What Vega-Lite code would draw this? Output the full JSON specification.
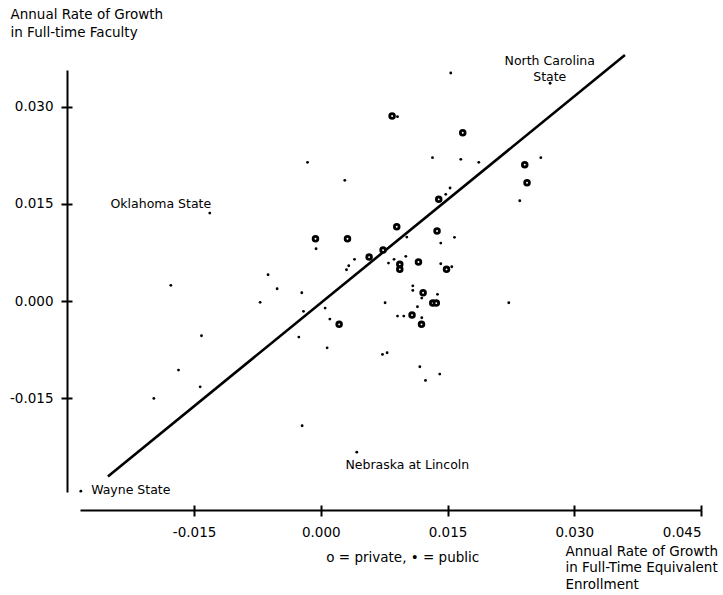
{
  "$schema": "https://vega.github.io/schema/vega-lite/v6.json",
  "width": 621,
  "height": 422,
  "autosize": {"type": "none"},
  "padding": {"left": 80, "top": 70, "right": 22, "bottom": 103},
  "background": "white",
  "config": {
    "view": {"stroke": null},
    "font": "DejaVu Sans",
    "axis": {
      "grid": false,
      "domainColor": "black",
      "domainWidth": 2,
      "tickColor": "black",
      "tickWidth": 2,
      "labelColor": "black",
      "titleColor": "black",
      "labelFont": "DejaVu Sans",
      "titleFont": "DejaVu Sans",
      "labelFontSize": 13.5,
      "titleFontSize": 13.5,
      "titleFontWeight": "normal"
    }
  },
  "datasets": {
    "points": [
      {"x": 0.00844, "y": 0.02859, "type": "private"},
      {"x": 0.01680, "y": 0.02601, "type": "private"},
      {"x": 0.01396, "y": 0.01572, "type": "private"},
      {"x": 0.00899, "y": 0.01148, "type": "private"},
      {"x": 0.01376, "y": 0.01082, "type": "private"},
      {"x": -0.00063, "y": 0.00963, "type": "private"},
      {"x": 0.00316, "y": 0.00963, "type": "private"},
      {"x": 0.00737, "y": 0.00788, "type": "private"},
      {"x": 0.00572, "y": 0.00680, "type": "private"},
      {"x": 0.00935, "y": 0.00567, "type": "private"},
      {"x": 0.00935, "y": 0.00490, "type": "private"},
      {"x": 0.01156, "y": 0.00603, "type": "private"},
      {"x": 0.01488, "y": 0.00490, "type": "private"},
      {"x": 0.01211, "y": 0.00128, "type": "private"},
      {"x": 0.01325, "y": -0.00031, "type": "private"},
      {"x": 0.01367, "y": -0.00031, "type": "private"},
      {"x": 0.01080, "y": -0.00216, "type": "private"},
      {"x": 0.01192, "y": -0.00360, "type": "private"},
      {"x": 0.00217, "y": -0.00360, "type": "private"},
      {"x": 0.02414, "y": 0.02107, "type": "private"},
      {"x": 0.02441, "y": 0.01828, "type": "private"},
      {"x": 0.00908, "y": 0.02849, "type": "public"},
      {"x": -0.00157, "y": 0.02144, "type": "public"},
      {"x": 0.01322, "y": 0.02215, "type": "public"},
      {"x": 0.01657, "y": 0.02190, "type": "public"},
      {"x": 0.01870, "y": 0.02144, "type": "public"},
      {"x": 0.00284, "y": 0.01866, "type": "public"},
      {"x": 0.01530, "y": 0.01747, "type": "public"},
      {"x": 0.01479, "y": 0.01649, "type": "public"},
      {"x": 0.01582, "y": 0.00985, "type": "public"},
      {"x": 0.01018, "y": 0.00989, "type": "public"},
      {"x": 0.01420, "y": 0.00896, "type": "public"},
      {"x": -0.00056, "y": 0.00808, "type": "public"},
      {"x": 0.00399, "y": 0.00645, "type": "public"},
      {"x": 0.00331, "y": 0.00546, "type": "public"},
      {"x": 0.00304, "y": 0.00484, "type": "public"},
      {"x": 0.00867, "y": 0.00645, "type": "public"},
      {"x": 0.01006, "y": 0.00691, "type": "public"},
      {"x": 0.00801, "y": 0.00587, "type": "public"},
      {"x": 0.01420, "y": 0.00577, "type": "public"},
      {"x": 0.01550, "y": 0.00530, "type": "public"},
      {"x": 0.01089, "y": 0.00236, "type": "public"},
      {"x": 0.01089, "y": 0.00165, "type": "public"},
      {"x": 0.01381, "y": 0.00104, "type": "public"},
      {"x": 0.01195, "y": 0.00046, "type": "public"},
      {"x": 0.00761, "y": -0.00026, "type": "public"},
      {"x": 0.02225, "y": -0.00026, "type": "public"},
      {"x": 0.01144, "y": -0.00088, "type": "public"},
      {"x": 0.00908, "y": -0.00232, "type": "public"},
      {"x": 0.00982, "y": -0.00232, "type": "public"},
      {"x": 0.01195, "y": -0.00258, "type": "public"},
      {"x": 0.00730, "y": -0.00824, "type": "public"},
      {"x": 0.00785, "y": -0.00799, "type": "public"},
      {"x": 0.01172, "y": -0.01015, "type": "public"},
      {"x": 0.01408, "y": -0.01128, "type": "public"},
      {"x": 0.01239, "y": -0.01226, "type": "public"},
      {"x": -0.00624, "y": 0.00406, "type": "public"},
      {"x": -0.01775, "y": 0.00243, "type": "public"},
      {"x": -0.00517, "y": 0.00190, "type": "public"},
      {"x": -0.00225, "y": 0.00128, "type": "public"},
      {"x": -0.00718, "y": -0.00020, "type": "public"},
      {"x": -0.00205, "y": -0.00159, "type": "public"},
      {"x": 0.00051, "y": -0.00108, "type": "public"},
      {"x": 0.00107, "y": -0.00278, "type": "public"},
      {"x": -0.00260, "y": -0.00556, "type": "public"},
      {"x": 0.00075, "y": -0.00722, "type": "public"},
      {"x": -0.01412, "y": -0.00536, "type": "public"},
      {"x": -0.01684, "y": -0.01066, "type": "public"},
      {"x": -0.01428, "y": -0.01325, "type": "public"},
      {"x": -0.01976, "y": -0.01504, "type": "public"},
      {"x": -0.00221, "y": -0.01927, "type": "public"},
      {"x": 0.02714, "y": 0.03365, "type": "public"},
      {"x": 0.02604, "y": 0.02215, "type": "public"},
      {"x": 0.02355, "y": 0.01550, "type": "public"},
      {"x": -0.02840, "y": -0.02937, "type": "public"},
      {"x": 0.01538, "y": 0.03524, "type": "public"},
      {"x": -0.01314, "y": 0.01360, "type": "public"},
      {"x": 0.00426, "y": -0.02334, "type": "public"}
    ],
    "fit": [
      {"x": -0.0252, "y": -0.0271},
      {"x": 0.0360, "y": 0.0380}
    ],
    "labels": [
      {"x": 0.0271, "y": 0.03709, "label": "North Carolina\nState"},
      {"x": -0.01893, "y": 0.0150, "label": "Oklahoma State"},
      {"x": 0.01024, "y": -0.02535, "label": "Nebraska at Lincoln"},
      {"x": -0.02249, "y": -0.02921, "label": "Wayne State"}
    ],
    "note": [
      {"x": 0.0097, "y": -0.03972, "label": "o = private, • = public"}
    ]
  },
  "resolve": {"axis": {"x": "independent", "y": "independent"}},
  "layer": [
    {
      "data": {"name": "fit"},
      "mark": {"type": "line", "color": "black", "strokeWidth": 2.6},
      "encoding": {
        "x": {
          "field": "x", "type": "quantitative",
          "scale": {"domain": [-0.0285, 0.045], "nice": false, "zero": false},
          "axis": {
            "orient": "bottom", "offset": 18,
            "values": [-0.015, 0, 0.015, 0.03, 0.045],
            "format": ".3f",
            "labelExpr": "replace(datum.label, '−', '-')",
            "tickSize": 6, "labelPadding": 9,
            "title": ["Annual Rate of Growth", "in Full-Time Equivalent", "Enrollment"],
            "titleAnchor": "start", "titleAlign": "left", "titleBaseline": "alphabetic",
            "titleX": 485, "titleY": 45, "titleLineHeight": 16.5, "titleAngle": 0
          }
        },
        "y": {
          "field": "y", "type": "quantitative",
          "scale": {"domain": [-0.0295, 0.0357], "nice": false, "zero": false},
          "axis": {
            "orient": "left", "offset": 13,
            "values": [-0.015, 0, 0.015, 0.03],
            "format": ".3f",
            "labelExpr": "replace(datum.label, '−', '-')",
            "tickSize": 6, "labelPadding": 8,
            "title": ["Annual Rate of Growth", "in Full-time Faculty"],
            "titleAngle": 0, "titleAlign": "left", "titleBaseline": "alphabetic",
            "titleX": -57, "titleY": -52, "titleLineHeight": 18
          }
        }
      }
    },
    {
      "data": {"name": "fit"},
      "mark": {"type": "line", "opacity": 0},
      "encoding": {
        "x": {
          "field": "x", "type": "quantitative",
          "scale": {"domain": [-0.0285, 0.045], "nice": false, "zero": false},
          "axis": {"orient": "bottom", "offset": 18, "values": [-0.015, 0, 0.015, 0.03, 0.045], "tickSize": -5, "labels": false, "domain": false, "title": null}
        },
        "y": {
          "field": "y", "type": "quantitative",
          "scale": {"domain": [-0.0295, 0.0357], "nice": false, "zero": false},
          "axis": {"orient": "left", "offset": 13, "values": [-0.015, 0, 0.015, 0.03], "tickSize": -5, "labels": false, "domain": false, "title": null}
        }
      }
    },
    {
      "data": {"name": "points"},
      "transform": [{"filter": "datum.type === 'public'"}],
      "mark": {"type": "point", "shape": "circle", "filled": true, "color": "black", "size": 8, "opacity": 1},
      "encoding": {
        "x": {"field": "x", "type": "quantitative", "axis": null},
        "y": {"field": "y", "type": "quantitative", "axis": null}
      }
    },
    {
      "data": {"name": "points"},
      "transform": [{"filter": "datum.type === 'private'"}],
      "mark": {"type": "point", "shape": "circle", "filled": false, "fill": "white", "fillOpacity": 1, "stroke": "black", "strokeWidth": 2.8, "size": 22, "opacity": 1},
      "encoding": {
        "x": {"field": "x", "type": "quantitative", "axis": null},
        "y": {"field": "y", "type": "quantitative", "axis": null}
      }
    },
    {
      "data": {"name": "labels"},
      "mark": {"type": "text", "align": "center", "baseline": "middle", "fontSize": 12.5, "font": "DejaVu Sans", "color": "black", "lineBreak": "\n", "lineHeight": 16},
      "encoding": {
        "x": {"field": "x", "type": "quantitative", "axis": null},
        "y": {"field": "y", "type": "quantitative", "axis": null},
        "text": {"field": "label"}
      }
    },
    {
      "data": {"name": "note"},
      "mark": {"type": "text", "align": "center", "baseline": "middle", "fontSize": 13.5, "font": "DejaVu Sans", "color": "black"},
      "encoding": {
        "x": {"field": "x", "type": "quantitative", "axis": null},
        "y": {"field": "y", "type": "quantitative", "axis": null},
        "text": {"field": "label"}
      }
    }
  ]
}
